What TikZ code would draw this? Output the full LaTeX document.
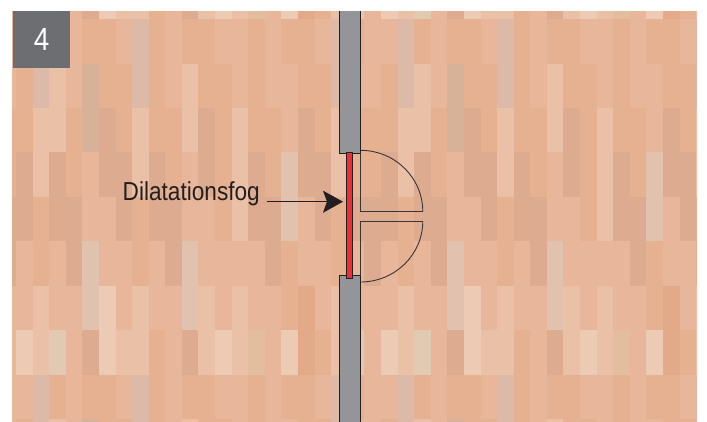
\documentclass[tikz,border=0pt]{standalone}
\usepackage{fontspec}
\usetikzlibrary{arrows.meta}
\newfontfamily\labelfont[FakeStretch=0.87]{Liberation Sans}
\definecolor{tonea}{HTML}{E5B190}
\definecolor{toneb}{HTML}{E7B69B}
\definecolor{tonec}{HTML}{EAC0A6}
\definecolor{toned}{HTML}{ECCAB4}
\definecolor{tonee}{HTML}{DDAC90}
\definecolor{toneg}{HTML}{DDB9A7}
\definecolor{tonet}{HTML}{D7B198}
\definecolor{tonem}{HTML}{E0C2AE}
\definecolor{toneu}{HTML}{E1C9B2}
\definecolor{tonen}{HTML}{E2BE9F}
\definecolor{toneo}{HTML}{E3AA89}
\definecolor{wallgrey}{HTML}{939598}
\definecolor{badgegrey}{HTML}{6D6E71}
\definecolor{fogred}{HTML}{EE2E34}
\definecolor{inkline}{HTML}{231F20}
\tikzset{
  wall/.style={draw=inkline,fill=wallgrey,line width=0.9pt},
  fog/.style={draw=inkline,fill=fogred,line width=0.9pt},
  door/.style={draw=inkline!90,line width=0.9pt},
  pointer/.style={draw=inkline,line width=0.9pt,-{Stealth[length=20pt,width=22pt,inset=4pt]}},
}
\begin{document}
\begin{tikzpicture}[x=1pt,y=-1pt]
\path[use as bounding box,fill=white] (0,0) rectangle (707,421);
\begin{scope}
\clip (12,11) rectangle (697,421);
% floorboards, 22 columns and 8 rows that repeat
\foreach \tones [count=\j from 0] in {
  {d,c,u,b,e,d,c,c,a,b,e,c,d,c,n,b,d,o,a,c,u,b},
  {b,g,a,b,a,a,b,g,a,b,a,a,b,b,a,b,a,a,b,g,a,b},
  {a,g,c,b,t,a,a,g,a,b,c,a,a,b,a,b,b,a,a,g,b,b},
  {a,c,c,a,t,e,a,c,a,a,c,e,a,c,a,a,b,e,a,c,a,a},
  {e,c,e,a,b,e,e,c,e,a,b,e,a,c,e,a,m,e,e,c,a,a},
  {e,a,e,e,b,b,e,a,e,e,b,b,a,c,e,e,m,b,e,a,e,e},
  {b,a,b,e,m,b,b,a,b,e,m,b,b,b,b,e,a,b,b,a,b,e},
  {b,c,b,b,m,d,b,c,b,b,m,c,b,c,b,b,a,o,b,c,b,b}}
{
  \foreach \t [count=\k from 0] in \tones {
    \foreach \ox in {-349,16,381}
      \foreach \oy in {0,355.4}
        \fill[tone\t] (\ox+16.59*\k,-25.3+44.42*\j+\oy) rectangle +(16.7,44.6);
  }
}
\draw[wall] (339.5,0) rectangle (360.3,153.3);
\draw[wall] (339.5,275.5) rectangle (360.3,430);
\end{scope}
\draw[fog] (346.7,152.7) rectangle (352.7,278.7);
% door swing
\draw[door] (360.4,153.3) -- (360.4,211.6) -- (422.8,211.6);
\draw[door] (360.4,275.5) -- (360.4,221) -- (422.8,221);
\draw[door] (360.4,150.3) .. controls (394.9,150.3) and (422.8,177.7) .. (422.8,211.6);
\draw[door] (422.8,221) .. controls (422.8,254.7) and (394.9,282) .. (360.4,282);
\node (badge) [fill=badgegrey,text=white,minimum size=57pt,inner sep=0pt,font=\labelfont\fontsize{32}{32}\selectfont] at (41.5,39.5) {4};
\node (fogtext) [anchor=base east,inner xsep=7pt,inner ysep=0pt,text=inkline,font=\labelfont\fontsize{26}{26}\selectfont] at (267,200) {Dilatationsfog};
\coordinate (tip) at (343,201.7);
\draw[pointer] (fogtext.east |- tip) -- (tip);
\end{tikzpicture}
\end{document}
